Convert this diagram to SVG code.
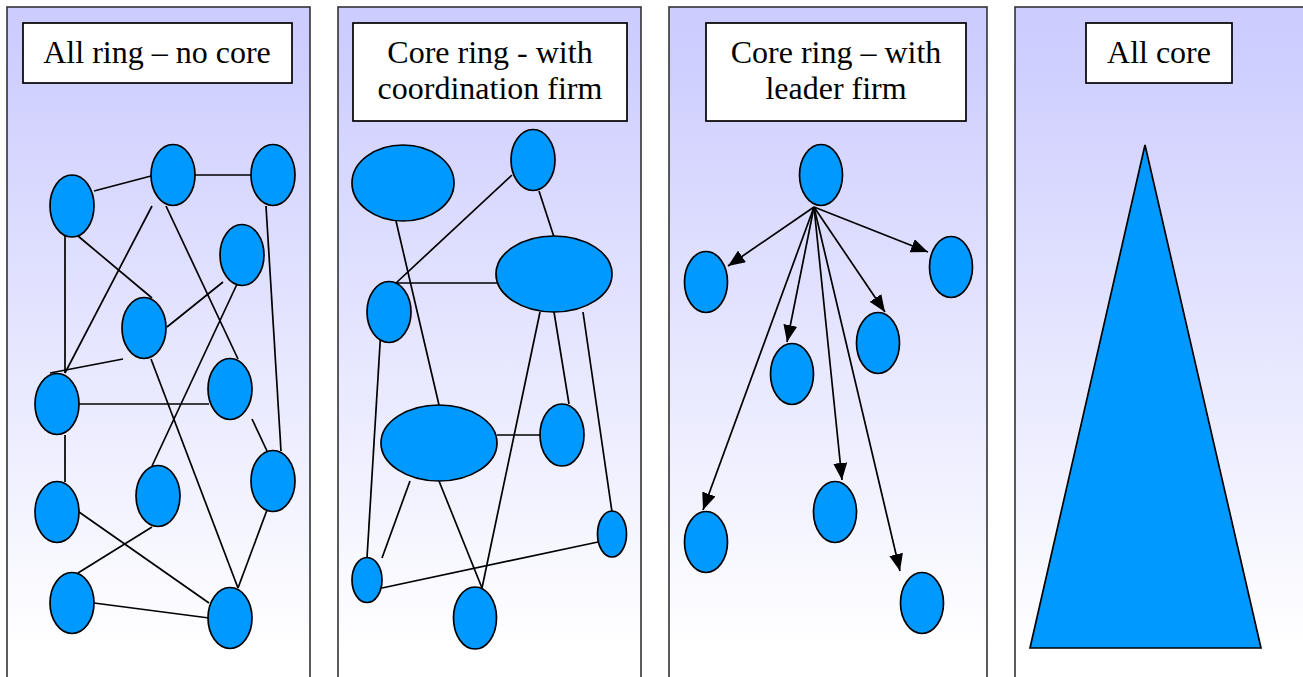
<svg xmlns="http://www.w3.org/2000/svg" width="1303" height="677" viewBox="0 0 1303 677">
<defs>
<linearGradient id="bg" gradientUnits="userSpaceOnUse" x1="0" y1="30" x2="0" y2="650">
<stop offset="0" stop-color="#CCCCFF"/>
<stop offset="1" stop-color="#FFFFFF"/>
</linearGradient>
<marker id="arr" markerUnits="userSpaceOnUse" markerWidth="18" markerHeight="14" refX="17" refY="7" orient="auto">
<path d="M0,0 L17,7 L0,14 z" fill="#000"/>
</marker>
<style>
.panel{fill:url(#bg);stroke:#333;stroke-width:1.6}
.tbox{fill:#fff;stroke:#000;stroke-width:1.7}
.t{font-family:"Liberation Serif","Times New Roman",serif;font-size:32px;fill:#000;text-anchor:middle}
.n{fill:#0099FF;stroke:#000;stroke-width:1.7}
.c line{stroke:#000;stroke-width:1.7}
.a line{stroke:#000;stroke-width:1.7;marker-end:url(#arr)}
</style>
</defs>

<g id="panel1">
<rect class="panel" x="7" y="7" width="303" height="690"/>
<g id="title1"><rect class="tbox" x="23" y="23" width="269" height="60"/><text class="t" x="157" y="63">All ring – no core</text></g>
</g>
<g id="panel2">
<rect class="panel" x="338" y="7" width="303" height="690"/>
<g id="title2"><rect class="tbox" x="353" y="23" width="274" height="98"/><text class="t" x="490" y="63">Core ring - with</text><text class="t" x="490" y="99">coordination firm</text></g>
</g>
<g id="panel3">
<rect class="panel" x="669" y="7" width="318" height="690"/>
<g id="title3"><rect class="tbox" x="706" y="23" width="260" height="98"/><text class="t" x="836" y="63">Core ring – with</text><text class="t" x="836" y="99">leader firm</text></g>
</g>
<g id="panel4">
<rect class="panel" x="1015" y="7" width="300" height="690"/>
<g id="title4"><rect class="tbox" x="1086" y="23" width="146" height="60"/><text class="t" x="1159" y="63">All core</text></g>
</g>

<g id="connectors">
<g class="c">
<line x1="94" y1="191" x2="151" y2="176"/>
<line x1="195" y1="175" x2="252" y2="175"/>
<line x1="65" y1="221" x2="65" y2="373"/>
<line x1="65" y1="435" x2="65" y2="482"/>
<line x1="78" y1="236" x2="152" y2="298"/>
<line x1="152" y1="206" x2="65" y2="373"/>
<line x1="166" y1="206" x2="238" y2="359"/>
<line x1="266" y1="206" x2="281" y2="451"/>
<line x1="223" y1="282" x2="167" y2="327"/>
<line x1="238" y1="282" x2="152" y2="466"/>
<line x1="50" y1="373" x2="123" y2="359"/>
<line x1="79" y1="404" x2="209" y2="404"/>
<line x1="151" y1="359" x2="238" y2="588"/>
<line x1="252" y1="419" x2="267" y2="451"/>
<line x1="267" y1="510" x2="238" y2="588"/>
<line x1="79" y1="512" x2="209" y2="603"/>
<line x1="152" y1="527" x2="78" y2="573"/>
<line x1="94" y1="603" x2="209" y2="618"/>

<line x1="396" y1="221" x2="439" y2="405"/>
<line x1="512" y1="175" x2="396" y2="283"/>
<line x1="539" y1="191" x2="554" y2="237"/>
<line x1="396" y1="283" x2="497" y2="283"/>
<line x1="381" y1="328" x2="367" y2="558"/>
<line x1="540" y1="312" x2="482" y2="588"/>
<line x1="554" y1="312" x2="569" y2="404"/>
<line x1="583" y1="312" x2="612" y2="512"/>
<line x1="497" y1="435" x2="540" y2="435"/>
<line x1="410" y1="481" x2="382" y2="558"/>
<line x1="439" y1="481" x2="482" y2="588"/>
<line x1="382" y1="588" x2="598" y2="542"/>
</g>
<g class="a">
<line x1="814" y1="207" x2="728" y2="266"/>
<line x1="814" y1="207" x2="928" y2="252"/>
<line x1="814" y1="207" x2="885" y2="312"/>
<line x1="814" y1="207" x2="787" y2="342"/>
<line x1="814" y1="207" x2="703" y2="510"/>
<line x1="814" y1="207" x2="842" y2="480"/>
<line x1="814" y1="207" x2="900" y2="571"/>
</g>
</g>

<g id="p1A"><ellipse class="n" cx="72" cy="206" rx="22" ry="31"/></g>
<g id="p1B"><ellipse class="n" cx="173" cy="175" rx="22" ry="30.5"/></g>
<g id="p1C"><ellipse class="n" cx="273" cy="175" rx="22" ry="30.5"/></g>
<g id="p1D"><ellipse class="n" cx="242" cy="255" rx="22" ry="30.5"/></g>
<g id="p1E"><ellipse class="n" cx="144" cy="328" rx="22" ry="30.5"/></g>
<g id="p1F"><ellipse class="n" cx="57" cy="404" rx="22" ry="30.5"/></g>
<g id="p1G"><ellipse class="n" cx="230" cy="389" rx="22" ry="30.5"/></g>
<g id="p1H"><ellipse class="n" cx="273" cy="481" rx="22" ry="30.5"/></g>
<g id="p1I"><ellipse class="n" cx="57" cy="512" rx="22" ry="30.5"/></g>
<g id="p1J"><ellipse class="n" cx="158" cy="496" rx="22" ry="30.5"/></g>
<g id="p1K"><ellipse class="n" cx="72" cy="603" rx="22" ry="30.5"/></g>
<g id="p1L"><ellipse class="n" cx="230" cy="618" rx="22" ry="30.5"/></g>

<g id="p2A"><ellipse class="n" cx="403" cy="183" rx="51" ry="38"/></g>
<g id="p2B"><ellipse class="n" cx="533" cy="160" rx="22" ry="30.5"/></g>
<g id="p2C"><ellipse class="n" cx="554" cy="274" rx="58" ry="38"/></g>
<g id="p2D"><ellipse class="n" cx="389" cy="312" rx="22" ry="30.5"/></g>
<g id="p2E"><ellipse class="n" cx="439" cy="443" rx="58" ry="38"/></g>
<g id="p2F"><ellipse class="n" cx="562" cy="435" rx="22" ry="31"/></g>
<g id="p2G"><ellipse class="n" cx="612" cy="534" rx="14.5" ry="23"/></g>
<g id="p2H"><ellipse class="n" cx="367" cy="580" rx="15" ry="22.5"/></g>
<g id="p2I"><ellipse class="n" cx="475" cy="618" rx="21.5" ry="31"/></g>

<g id="p3Leader"><ellipse class="n" cx="821" cy="175" rx="21.5" ry="30.5"/></g>
<g id="p3A"><ellipse class="n" cx="706" cy="282" rx="21.5" ry="30.5"/></g>
<g id="p3B"><ellipse class="n" cx="951" cy="267" rx="21.5" ry="30.5"/></g>
<g id="p3C"><ellipse class="n" cx="878" cy="343" rx="21.5" ry="30.5"/></g>
<g id="p3D"><ellipse class="n" cx="792" cy="374" rx="21.5" ry="30.5"/></g>
<g id="p3E"><ellipse class="n" cx="706" cy="542" rx="21.5" ry="30.5"/></g>
<g id="p3F"><ellipse class="n" cx="835" cy="512" rx="21.5" ry="30.5"/></g>
<g id="p3G"><ellipse class="n" cx="922" cy="603" rx="21.5" ry="30.5"/></g>

<g id="p4Core"><polygon class="n" points="1145,145 1261,648 1030,648"/></g>
</svg>
